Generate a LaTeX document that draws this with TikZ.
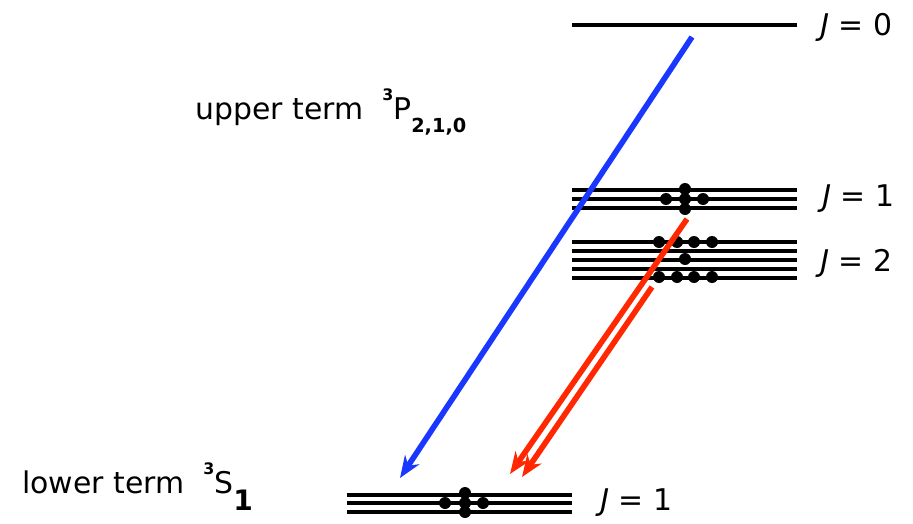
\documentclass[tikz,border=0pt]{standalone}
\usepackage{fontspec}
\setmainfont{DejaVu Sans}
\usetikzlibrary{arrows.meta}

\definecolor{lineblue}{RGB}{25,55,255}
\definecolor{linered}{RGB}{255,40,0}
\newcommand{\supnum}[1]{\raisebox{0.62em}{\fontsize{9}{9}\selectfont\bfseries #1}}
\newcommand{\subnum}[2]{\raisebox{-#2}{\fontsize{11}{11}\selectfont\bfseries #1}}

\begin{document}
\begin{tikzpicture}[x=0.02cm, y=-0.02cm,
    level/.style={line width=2.2pt},
    dot/.style={fill=black},
    lbl/.style={font=\fontsize{17}{19}\selectfont, anchor=base west, inner sep=0pt},
    jlbl/.style={font=\fontsize{17}{19}\selectfont, anchor=west, inner sep=0pt},
    arrow/.style={line width=3.2pt, -{Stealth[length=0.44cm, width=0.34cm]}},
]
\useasboundingbox (0,0) rectangle (913,524);

% upper term levels
\draw[level] (572,25) -- (797,25);
\foreach \y in {190,199,208} {
    \draw[level] (572,\y) -- (797,\y);
}
\foreach \y in {242,251,260,269,278} {
    \draw[level] (572,\y) -- (797,\y);
}
% lower term levels
\foreach \y in {495,503,512} {
    \draw[level] (347,\y) -- (572,\y);
}

% sublevel dots
\foreach \p in {(666,199),(685,189),(685,199),(685,209),(703,199),
                (659,242),(677,242),(694,242),(712,242),(685,259),
                (659,277),(677,277),(694,277),(712,277),
                (445,503),(465,493),(465,503),(465,512),(483,503)} {
    \fill[dot] \p circle [radius=0.12cm];
}

% labels
\node[lbl] (upper) at (195,119)
    {upper term\ \ \supnum{3}P\subnum{2,1,0}{0.45em}};
\node[lbl] (lower) at (22,493)
    {lower term\ \ \supnum{3}S\subnum{\fontsize{16}{16}\selectfont 1}{0.6em}};
\node[jlbl] (j0) at (820,27)  {\textit{J} = 0};
\node[jlbl] (j1) at (822,199) {\textit{J} = 1};
\node[jlbl] (j2) at (820,263) {\textit{J} = 2};
\node[jlbl] (jl) at (600,503) {\textit{J} = 1};

% transitions
\coordinate (b0) at (692,37);
\coordinate (b1) at (400,478);
\coordinate (r0) at (687,219);
\coordinate (r1) at (510,474);
\coordinate (r2) at (652,287);
\coordinate (r3) at (522,477);
\draw[arrow, lineblue] (b0) -- (b1);
\draw[arrow, linered] (r0) -- (r1);
\draw[arrow, linered] (r2) -- (r3);
\end{tikzpicture}
\end{document}
